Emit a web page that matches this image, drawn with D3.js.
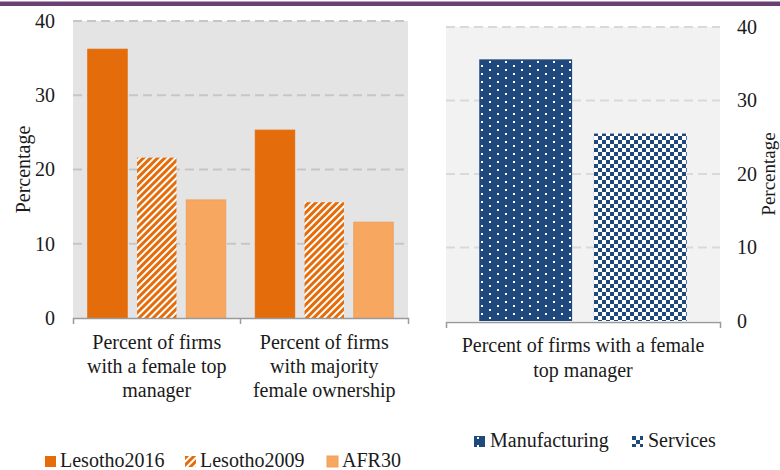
<!DOCTYPE html>
<meta charset="utf-8">
<script src="https://d3js.org/d3.v7.min.js"></script>
<style>
  body { margin: 0; background: #fff; }
  text { font-family: "Liberation Serif", "DejaVu Serif", serif; fill: #1a1a1a; }
</style>
<div id="chart"></div>
<script>

// data
var leftCategories = ["Percent of firms with a female top manager", "Percent of firms with majority female ownership"];
var leftLabelLines = [["Percent of firms", "with a female top", "manager"], ["Percent of firms", "with majority", "female ownership"]];
var leftSeries = ["Lesotho2016", "Lesotho2009", "AFR30"];
var lesotho2016 = [36.2, 25.3];
var lesotho2009 = [21.6, 15.6];
var afr30 = [15.9, 12.9];

var rightCategories = ["Percent of firms with a female top manager"];
var rightLabelLines = [["Percent of firms with a female", "top manager"]];
var rightSeries = ["Manufacturing", "Services"];
var manufacturing = [35.6];
var services = [25.5];

var yTicks = [0, 10, 20, 30, 40];

var W = 780, H = 470;

var svg = d3.select("#chart").append("svg")
    .attr("width", W)
    .attr("height", H);

// patterns
var defs = svg.append("defs");

var stripes = defs.append("pattern")
    .attr("id", "stripes")
    .attr("patternUnits", "userSpaceOnUse")
    .attr("width", 5).attr("height", 5)
    .attr("patternTransform", "rotate(45)");
stripes.append("rect").attr("width", 5).attr("height", 5).attr("fill", "#fff");
stripes.append("rect").attr("width", 3).attr("height", 5).attr("fill", "#e46c0a");

var dots = defs.append("pattern")
    .attr("id", "dots")
    .attr("patternUnits", "userSpaceOnUse")
    .attr("width", 16).attr("height", 8);
dots.append("rect").attr("width", 16).attr("height", 8).attr("fill", "#1f497d");
dots.append("rect").attr("x", 3).attr("y", 1).attr("width", 2).attr("height", 2).attr("fill", "#fff");
dots.append("rect").attr("x", 11).attr("y", 5).attr("width", 2).attr("height", 2).attr("fill", "#fff");

var checks = defs.append("pattern")
    .attr("id", "checks")
    .attr("patternUnits", "userSpaceOnUse")
    .attr("width", 8).attr("height", 8);
checks.append("rect").attr("width", 8).attr("height", 8).attr("fill", "#fff");
checks.append("rect").attr("width", 4).attr("height", 4).attr("fill", "#1f497d");
checks.append("rect").attr("x", 4).attr("y", 4).attr("width", 4).attr("height", 4).attr("fill", "#1f497d");

var leftFill = {Lesotho2016: "#e46c0a", Lesotho2009: "url(#stripes)", AFR30: "#f8a761"};
var leftStroke = {Lesotho2016: "#e46c0a", Lesotho2009: "none", AFR30: "#eda05a"};
var rightFill = {Manufacturing: "url(#dots)", Services: "url(#checks)"};

// purple rule at the top
svg.append("rect")
    .attr("x", 0).attr("y", 1.5)
    .attr("width", W).attr("height", 4.5)
    .attr("fill", "#6b3f73");

// ---------- left panel ----------
var L = {left: 73, right: 408, top: 21, bottom: 318};

var yL = d3.scaleLinear().domain([0, 40]).range([L.bottom, L.top]);
var x0L = d3.scaleBand().domain(leftCategories).range([L.left, L.right]);
var x1L = d3.scaleBand().domain(leftSeries).range([0, x0L.bandwidth()])
    .paddingInner(0.2).paddingOuter(0.3);

svg.append("rect")
    .attr("x", L.left).attr("y", L.top)
    .attr("width", L.right - L.left).attr("height", L.bottom - L.top)
    .attr("fill", "#e4e4e4");

svg.append("g").selectAll("line")
    .data(yTicks.slice(1))
    .enter().append("line")
    .attr("x1", L.left).attr("x2", L.right)
    .attr("y1", function(d) { return yL(d); })
    .attr("y2", function(d) { return yL(d); })
    .attr("stroke", "#c6c6c6")
    .attr("stroke-width", 2)
    .attr("stroke-dasharray", "9,5");

var leftRows = leftCategories.map(function(c, i) {
  return {cat: c, values: [
    {key: "Lesotho2016", value: lesotho2016[i]},
    {key: "Lesotho2009", value: lesotho2009[i]},
    {key: "AFR30", value: afr30[i]}
  ]};
});

svg.append("g").selectAll("g")
    .data(leftRows)
    .enter().append("g")
    .attr("transform", function(d) { return "translate(" + x0L(d.cat) + ",0)"; })
    .selectAll("rect")
    .data(function(d) { return d.values; })
    .enter().append("rect")
    .attr("x", function(d) { return x1L(d.key); })
    .attr("y", function(d) { return yL(d.value); })
    .attr("width", x1L.bandwidth())
    .attr("height", function(d) { return yL(0) - yL(d.value); })
    .attr("fill", function(d) { return leftFill[d.key]; })
    .attr("stroke", function(d) { return leftStroke[d.key]; })
    .attr("stroke-width", 1);

// y axis (labels only)
var yAxisL = svg.append("g")
    .attr("transform", "translate(" + L.left + ",0)")
    .call(d3.axisLeft(yL).tickValues(yTicks).tickSize(0).tickPadding(18));
yAxisL.select(".domain").remove();
yAxisL.selectAll("text")
    .style("font-size", "20px")
    .style("font-family", "Liberation Serif, serif")
    .attr("fill", "#1a1a1a");

// x axis
var xAxisL = svg.append("g")
    .attr("transform", "translate(0," + L.bottom + ")")
    .call(d3.axisBottom(x0L).tickFormat("").tickSize(0).tickSizeOuter(6));
xAxisL.select(".domain").attr("stroke", "#9a9a9a").attr("stroke-width", 1.5);
xAxisL.selectAll(".tick").remove();
xAxisL.selectAll("line.mid")
    .data(leftCategories.slice(1))
    .enter().append("line")
    .attr("class", "mid")
    .attr("x1", function(d) { return x0L(d); })
    .attr("x2", function(d) { return x0L(d); })
    .attr("y1", 0).attr("y2", 6)
    .attr("stroke", "#9a9a9a").attr("stroke-width", 1.5);

svg.append("g").selectAll("text")
    .data(leftCategories)
    .enter().append("text")
    .attr("text-anchor", "middle")
    .style("font-size", "20px")
    .each(function(d, i) {
      var t = d3.select(this);
      leftLabelLines[i].forEach(function(line, j) {
        t.append("tspan")
          .attr("x", x0L(d) + x0L.bandwidth() / 2)
          .attr("y", 349 + j * 24)
          .text(line);
      });
    });

svg.append("text")
    .attr("transform", "translate(30," + (L.top + L.bottom) / 2 + ") rotate(-90)")
    .attr("text-anchor", "middle")
    .style("font-size", "20px")
    .text("Percentage");

// left legend
var legL = [
  {key: "Lesotho2016", x: 45},
  {key: "Lesotho2009", x: 185},
  {key: "AFR30", x: 327}
];
var lg = svg.append("g").selectAll("g")
    .data(legL)
    .enter().append("g")
    .attr("transform", function(d) { return "translate(" + d.x + ",456)"; });
lg.append("rect")
    .attr("width", 11).attr("height", 11)
    .attr("fill", function(d) { return leftFill[d.key]; })
    .attr("stroke", function(d) { return d.key == "AFR30" ? "#eda05a" : "none"; });
lg.append("text")
    .attr("x", 15).attr("y", 11)
    .style("font-size", "20px")
    .text(function(d) { return d.key; });

// ---------- right panel ----------
var R = {left: 446, right: 720, top: 27, bottom: 321};

var yR = d3.scaleLinear().domain([0, 40]).range([R.bottom, R.top]);
var x0R = d3.scaleBand().domain(rightCategories).range([R.left, R.right]);
var x1R = d3.scaleBand().domain(rightSeries).range([0, x0R.bandwidth()])
    .paddingInner(0.19).paddingOuter(0.29);

svg.append("rect")
    .attr("x", R.left).attr("y", R.top)
    .attr("width", R.right - R.left).attr("height", R.bottom - R.top)
    .attr("fill", "#f2f2f2");

svg.append("g").selectAll("line")
    .data(yTicks.slice(1))
    .enter().append("line")
    .attr("x1", R.left).attr("x2", R.right)
    .attr("y1", function(d) { return yR(d); })
    .attr("y2", function(d) { return yR(d); })
    .attr("stroke", "#d9d9d9")
    .attr("stroke-width", 2)
    .attr("stroke-dasharray", "9,5");

var rightRows = rightCategories.map(function(c, i) {
  return {cat: c, values: [
    {key: "Manufacturing", value: manufacturing[i]},
    {key: "Services", value: services[i]}
  ]};
});

svg.append("g").selectAll("g")
    .data(rightRows)
    .enter().append("g")
    .attr("transform", function(d) { return "translate(" + x0R(d.cat) + ",0)"; })
    .selectAll("rect")
    .data(function(d) { return d.values; })
    .enter().append("rect")
    .attr("x", function(d) { return x1R(d.key); })
    .attr("y", function(d) { return yR(d.value); })
    .attr("width", x1R.bandwidth())
    .attr("height", function(d) { return yR(0) - yR(d.value); })
    .attr("fill", function(d) { return rightFill[d.key]; });

var yAxisR = svg.append("g")
    .attr("transform", "translate(" + R.right + ",0)")
    .call(d3.axisRight(yR).tickValues(yTicks).tickSize(0).tickPadding(17));
yAxisR.select(".domain").remove();
yAxisR.selectAll("text")
    .style("font-size", "20px")
    .style("font-family", "Liberation Serif, serif")
    .attr("fill", "#1a1a1a");

var xAxisR = svg.append("g")
    .attr("transform", "translate(0," + (R.bottom + 1) + ")")
    .call(d3.axisBottom(x0R).tickFormat("").tickSize(0).tickSizeOuter(6));
xAxisR.select(".domain").attr("stroke", "#9a9a9a").attr("stroke-width", 1.5);
xAxisR.selectAll(".tick").remove();

svg.append("g").selectAll("text")
    .data(rightCategories)
    .enter().append("text")
    .attr("text-anchor", "middle")
    .style("font-size", "20px")
    .each(function(d, i) {
      var t = d3.select(this);
      rightLabelLines[i].forEach(function(line, j) {
        t.append("tspan")
          .attr("x", x0R(d) + x0R.bandwidth() / 2)
          .attr("y", 352 + j * 25)
          .text(line);
      });
    });

// pulled in a little so the whole word stays on the page
svg.append("text")
    .attr("transform", "translate(775," + (R.top + R.bottom) / 2 + ") rotate(-90)")
    .attr("text-anchor", "middle")
    .style("font-size", "19px")
    .text("Percentage");

// right legend
var legR = [
  {key: "Manufacturing", x: 474},
  {key: "Services", x: 632}
];
var rg = svg.append("g").selectAll("g")
    .data(legR)
    .enter().append("g")
    .attr("transform", function(d) { return "translate(" + d.x + ",436)"; });
rg.append("rect")
    .attr("width", 11).attr("height", 11)
    .attr("fill", function(d) { return rightFill[d.key]; });
rg.append("text")
    .attr("x", 16).attr("y", 11)
    .style("font-size", "20px")
    .text(function(d) { return d.key; });

</script>
